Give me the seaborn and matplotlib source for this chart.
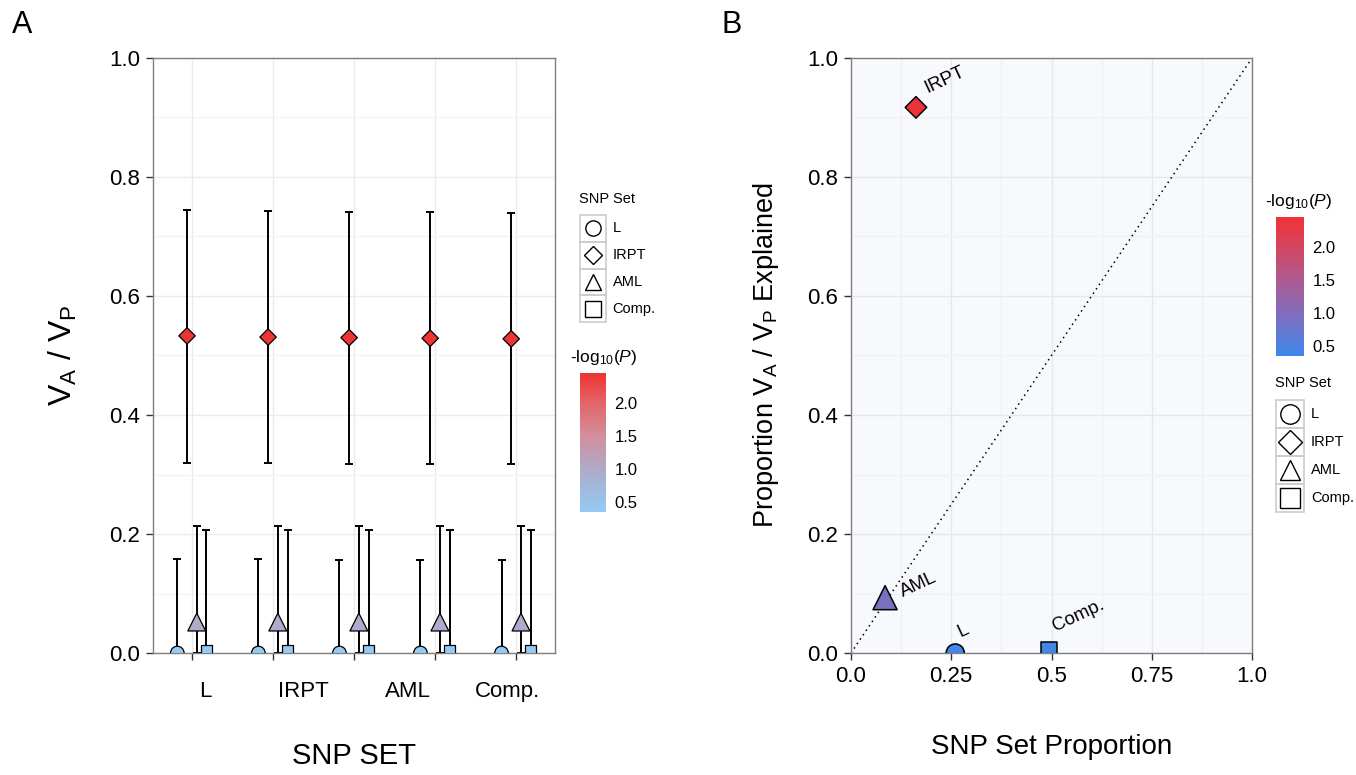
"""Heritability per SNP set: (A) V_A/V_P po setu, (B) udio objasnjene varijanse vs udio SNP-ova."""

import numpy as np
import pandas as pd
import matplotlib as mpl
import matplotlib.pyplot as plt
import seaborn as sns
from matplotlib.colors import LinearSegmentedColormap, Normalize
from matplotlib.patches import Rectangle

# ---- podaci ---------------------------------------------------------------
snp_sets = ["L", "IRPT", "AML", "Comp."]
runs = [1, 2, 3, 4, 5]
run_labels = ["L", "IRPT", "AML", "Comp."]

# panel A: procjena V_A/V_P i granice intervala, po setu (5 ponavljanja)
est_L = [0.0, 0.0, 0.0, 0.0, 0.0]
est_IRPT = [0.533, 0.531, 0.530, 0.529, 0.528]
est_AML = [0.052, 0.052, 0.052, 0.052, 0.052]
est_Comp = [0.004, 0.004, 0.004, 0.004, 0.004]

upper_L = [0.158, 0.158, 0.157, 0.157, 0.157]
upper_IRPT = [0.745, 0.743, 0.742, 0.741, 0.740]
upper_AML = [0.213, 0.213, 0.213, 0.213, 0.213]
upper_Comp = [0.207, 0.207, 0.207, 0.207, 0.207]

lower_L = [0.0, 0.0, 0.0, 0.0, 0.0]
lower_IRPT = [0.320, 0.319, 0.318, 0.318, 0.317]
lower_AML = [0.0, 0.0, 0.0, 0.0, 0.0]
lower_Comp = [0.0, 0.0, 0.0, 0.0, 0.0]

logp_a = [0.36, 2.42, 0.95, 0.38]

# panel B
snp_prop = [0.26, 0.162, 0.085, 0.494]
va_prop = [0.0, 0.917, 0.093, 0.005]
logp_b = [0.38, 2.42, 0.92, 0.40]

LOGP_RANGE = (0.35, 2.45)

# ---- stil -----------------------------------------------------------------
sns.set_theme(style="white")
plt.rcParams["font.family"] = ["Liberation Sans", "DejaVu Sans"]
plt.rcParams["mathtext.fontset"] = "custom"
plt.rcParams["mathtext.rm"] = "Liberation Sans"
plt.rcParams["mathtext.it"] = "Liberation Sans:italic"
plt.rcParams["mathtext.default"] = "regular"
plt.rcParams["text.color"] = "black"
plt.rcParams["axes.labelcolor"] = "black"
plt.rcParams["xtick.labelcolor"] = "black"
plt.rcParams["ytick.labelcolor"] = "black"

markers = {"L": "o", "IRPT": "D", "AML": "^", "Comp.": "s"}
cmap_a = LinearSegmentedColormap.from_list(
    "a", [(0, "#93CBF5"), (0.3, "#AEABCA"), (0.55, "#D38E9C"), (0.8, "#E46266"), (1, "#EF3232")])
cmap_b = LinearSegmentedColormap.from_list(
    "b", [(0, "#3E87EB"), (0.28, "#7C6FC1"), (0.55, "#AE5A90"), (0.8, "#D6445E"), (1, "#EF3236")])
norm = Normalize(*LOGP_RANGE)

W, H = 1356, 775
fig = plt.figure(figsize=(W / 100, H / 100), dpi=100)


def fig_rect(x0, y0, x1, y1):
    return [x0 / W, 1 - y1 / H, (x1 - x0) / W, (y1 - y0) / H]


def style_axes(ax, face):
    ax.set_facecolor(face)
    for sp in ax.spines.values():
        sp.set_visible(True)
        sp.set_color("#7F7F7F")
        sp.set_linewidth(1)
    ax.tick_params(which="major", direction="out", length=5, width=1, color="#333333",
                   labelsize=16, labelcolor="black", bottom=True, left=True, pad=4)
    ax.set_axisbelow(True)


def shape_legend(rect, title, msize):
    lax = fig.add_axes(fig_rect(*rect))
    lax.set_xlim(0, 1)
    lax.set_ylim(len(snp_sets), 0)
    lax.axis("off")
    for i, s in enumerate(snp_sets):
        lax.add_patch(Rectangle((0, i), 1, 1, fill=False, edgecolor="#CCCCCC", lw=1.2, clip_on=False))
        lax.plot(0.5, i + 0.5, marker=markers[s], ms=msize if s != "IRPT" else msize * 0.85,
                 mfc="none", mec="black", mew=1, clip_on=False)
        lax.text(1.25, i + 0.5, s, va="center", ha="left", fontsize=10.5)
    lax.text(-0.05, -0.35, title, va="bottom", ha="left", fontsize=10.5)


def colorbar(rect, cmap):
    cax = fig.add_axes(fig_rect(*rect))
    cb = mpl.colorbar.ColorbarBase(cax, cmap=cmap, norm=norm, ticks=[0.5, 1.0, 1.5, 2.0])
    cb.outline.set_visible(False)
    cax.yaxis.set_ticks_position("both")
    cax.tick_params(direction="in", length=5, width=1, color="white", labelsize=12,
                    labelcolor="black", left=True, right=True, labelleft=False, labelright=True, pad=6)
    cax.text(-0.4, 1.04, r"-log$_{10}$($\it{P}$)", transform=cax.transAxes,
             ha="left", va="bottom", fontsize=12.5)


# ---- panel A ---------------------------------------------------------------
est = [est_L, est_IRPT, est_AML, est_Comp]
upper = [upper_L, upper_IRPT, upper_AML, upper_Comp]
lower = [lower_L, lower_IRPT, lower_AML, lower_Comp]
rows = []
for k, s in enumerate(snp_sets):
    for j, r in enumerate(runs):
        rows.append({"set": s, "x": r + (k - 1.5) * 0.12, "est": est[k][j],
                     "lo": lower[k][j], "hi": upper[k][j], "logp": logp_a[k]})
df_a = pd.DataFrame(rows)

ax = fig.add_axes(fig_rect(153, 58, 555, 653))
style_axes(ax, "white")
ax.errorbar(df_a["x"], df_a["est"], yerr=[df_a["est"] - df_a["lo"], df_a["hi"] - df_a["est"]],
            fmt="none", ecolor="black", elinewidth=1.4, capsize=2.6, capthick=1.4, zorder=2)
sns.scatterplot(data=df_a, x="x", y="est", hue="logp", palette=cmap_a, hue_norm=LOGP_RANGE,
                style="set", markers=markers, size="set",
                sizes={"L": 95, "IRPT": 70, "AML": 165, "Comp.": 62},
                edgecolor="black", linewidth=0.9, legend=False, zorder=3, ax=ax)
ax.set_xlim(0.52, 5.48)
ax.set_ylim(0, 1)
ax.set_yticks(np.arange(0, 1.01, 0.2))
ax.set_yticks(np.arange(0.1, 1, 0.2), minor=True)
ax.set_xticks(runs)
ax.set_xticklabels([""] * len(runs))
ax.set_xticks([1.16, 2.37, 3.66, 4.89], run_labels, minor=True)
ax.tick_params(axis="x", which="minor", length=0, pad=20, labelsize=16, labelcolor="black")
ax.tick_params(axis="y", which="minor", length=0)
ax.grid(which="major", color="#EBEBEB", lw=1)
ax.yaxis.grid(which="minor", color="#F4F4F4", lw=1)
ax.set_xlabel("SNP SET", fontsize=21, labelpad=29)
ax.set_ylabel(r"V$_\mathrm{A}$ / V$_\mathrm{P}$", fontsize=23, labelpad=22)

shape_legend((580, 215, 606, 322), "SNP Set", 11)
colorbar((580, 373, 606, 512), cmap_a)

# ---- panel B ---------------------------------------------------------------
df_b = pd.DataFrame({"set": snp_sets, "snp": snp_prop, "va": va_prop, "logp": logp_b})
bx = fig.add_axes(fig_rect(851, 58, 1252, 653))
style_axes(bx, "#F7F9FD")
bx.plot([0, 1], [0, 1], ls=(0, (1, 2.5)), color="black", lw=1.1, zorder=2)
sns.scatterplot(data=df_b, x="snp", y="va", hue="logp", palette=cmap_b, hue_norm=LOGP_RANGE,
                style="set", markers=markers, size="set",
                sizes={"L": 170, "IRPT": 120, "AML": 300, "Comp.": 130},
                edgecolor="black", linewidth=1.1, legend=False, zorder=3, ax=bx)
offsets = {"L": (5, 9), "IRPT": (9, 8), "AML": (14, -2), "Comp.": (6, 11)}
for _, r in df_b.iterrows():
    bx.annotate(r["set"], (r["snp"], r["va"]), xytext=offsets[r["set"]], textcoords="offset points",
                rotation=25, rotation_mode="anchor", ha="left", va="bottom", fontsize=13.5)
bx.set_xlim(0, 1)
bx.set_ylim(0, 1)
bx.set_xticks([0, 0.25, 0.5, 0.75, 1.0], ["0.0", "0.25", "0.5", "0.75", "1.0"])
bx.set_xticks([0.125, 0.375, 0.625, 0.875], minor=True)
bx.set_yticks(np.arange(0, 1.01, 0.2))
bx.set_yticks(np.arange(0.1, 1, 0.2), minor=True)
bx.tick_params(which="minor", length=0)
bx.grid(which="major", color="#E4E7EC", lw=1)
bx.grid(which="minor", color="#EFF1F5", lw=1)
bx.set_xlabel("SNP Set Proportion", fontsize=20, labelpad=34)
bx.set_ylabel(r"Proportion V$_\mathrm{A}$ / V$_\mathrm{P}$ Explained", fontsize=19.5, labelpad=19)

colorbar((1276, 217, 1304, 356), cmap_b)
shape_legend((1276, 400, 1304, 512), "SNP Set", 14)

fig.text(12 / W, 1 - 25 / H, "A", fontsize=22, va="center", ha="left")
fig.text(722 / W, 1 - 25 / H, "B", fontsize=22, va="center", ha="left")

fig.savefig("out.png", dpi=100)
plt.close(fig)
